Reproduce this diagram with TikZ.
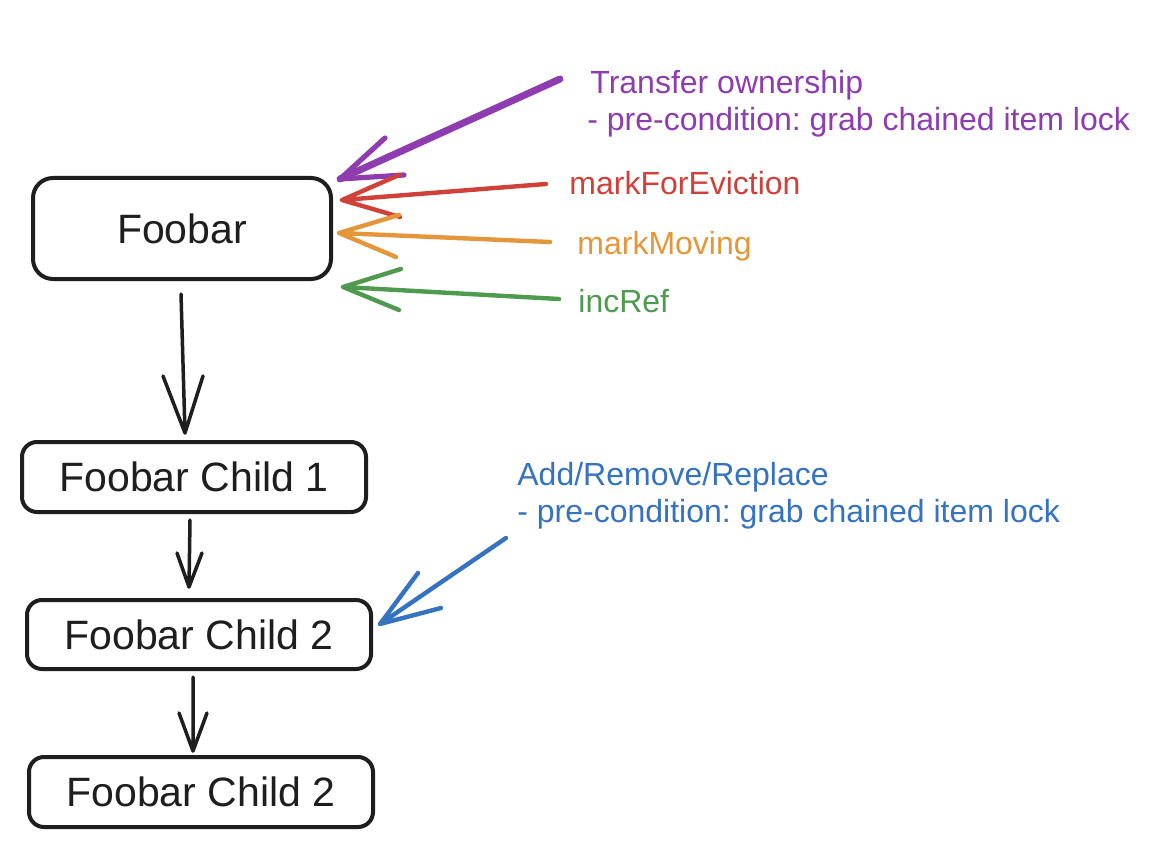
\documentclass[tikz,border=0pt]{standalone}
\usepackage{fontspec}
\setmainfont{Liberation Sans}
\frenchspacing
\definecolor{cpur}{HTML}{8E3CB0}
\definecolor{cred}{HTML}{D0413A}
\definecolor{corg}{HTML}{E6963A}
\definecolor{cgrn}{HTML}{4E9A4E}
\definecolor{cblu}{HTML}{3572C0}
\definecolor{cblk}{HTML}{1E1E1E}
\tikzset{
  box/.style={draw=cblk, line width=2pt, rounded corners=7.5pt, inner sep=0pt,
    minimum width=172pt, minimum height=35pt, font=\fontsize{20.5}{24}\selectfont, text=cblk},
  blkarr/.style={draw=cblk, line width=1.75pt, line cap=round, line join=round},
  colarr/.style={line width=2.2pt, line cap=round, line join=round},
  lbl/.style={anchor=base west, inner sep=0pt, align=left, font=\fontsize{16}{18.5}\selectfont}
}
\begin{document}
\begin{tikzpicture}[x=0.5pt, y=-0.5pt]
\path[use as bounding box, fill=white] (0,0) rectangle (1152,856);

% boxes
\node[box, minimum width=149pt, minimum height=50.5pt, rounded corners=10pt] (fb) at (182,228.5) {Foobar};
\node[box] (c1) at (194,477) {Foobar Child 1};
\node[box, minimum height=34.5pt] (c2) at (199,634.5) {Foobar Child 2};
\node[box] (c3) at (201,792) {Foobar Child 2};

% labels (base anchor = baseline of the last line)
\node[lbl, text=cpur] (lpur) at (587,131) {\hspace{1.5pt}Transfer ownership\\- pre-condition: grab chained item lock};
\node[lbl, text=cred] (lred) at (569,194) {markForEviction};
\node[lbl, text=corg] (lorg) at (577,255) {markMoving};
\node[lbl, text=cgrn] (lgrn) at (578,312) {incRef};
\node[lbl, text=cblu] (lblu) at (517,522) {Add/Remove/Replace\\- pre-condition: grab chained item lock};

% arrow end points
\coordinate (pS) at (560,79);
\coordinate (pT) at ([shift={(7,3)}]fb.north east);
\coordinate (rS) at (546,184);
\coordinate (rT) at ([shift={(9,-28.5)}]fb.east);
\coordinate (oS) at (550,242);
\coordinate (oT) at ([shift={(6,4.5)}]fb.east);
\coordinate (gS) at (559,299);
\coordinate (gT) at ([shift={(10,58.5)}]fb.east);
\coordinate (bS) at (506,538);
\coordinate (bT) at ([shift={(7,-10.5)}]c2.east);

% coloured arrows
\draw[colarr, draw=cpur, line width=3.5pt] (pS) -- (pT);
\draw[colarr, draw=cpur, line width=2.6pt] (pT) -- ++(45,-41) (pT) -- ++(64,-4);
\draw[colarr, draw=cred] (rS) -- (rT) -- ++(57,-25) (rT) -- ++(58,17);
\draw[colarr, draw=corg] (oS) -- (oT) -- ++(60,-18) (oT) -- ++(57,24);
\draw[colarr, draw=cgrn] (gS) -- (gT) -- ++(58,-18) (gT) -- ++(56,23);
\draw[colarr, draw=cblu] (bS) -- (bT) -- ++(38,-51) (bT) -- ++(61,-16);

% black arrows
\draw[blkarr] ([shift={(-1,13)}]fb.south) -- ([shift={(-9,-7)}]c1.north) coordinate (t1)
  -- ++(-22,-57) (t1) -- ++(18,-57);
\draw[blkarr] ([shift={(-4,6)}]c1.south) -- ([shift={(-10,-11)}]c2.north) coordinate (t2)
  -- ++(-12,-34) (t2) -- ++(13,-34);
\draw[blkarr] ([shift={(-6,6)}]c2.south) -- ([shift={(-8,-4)}]c3.north) coordinate (t3)
  -- ++(-14,-38) (t3) -- ++(14,-38);
\end{tikzpicture}
\end{document}
